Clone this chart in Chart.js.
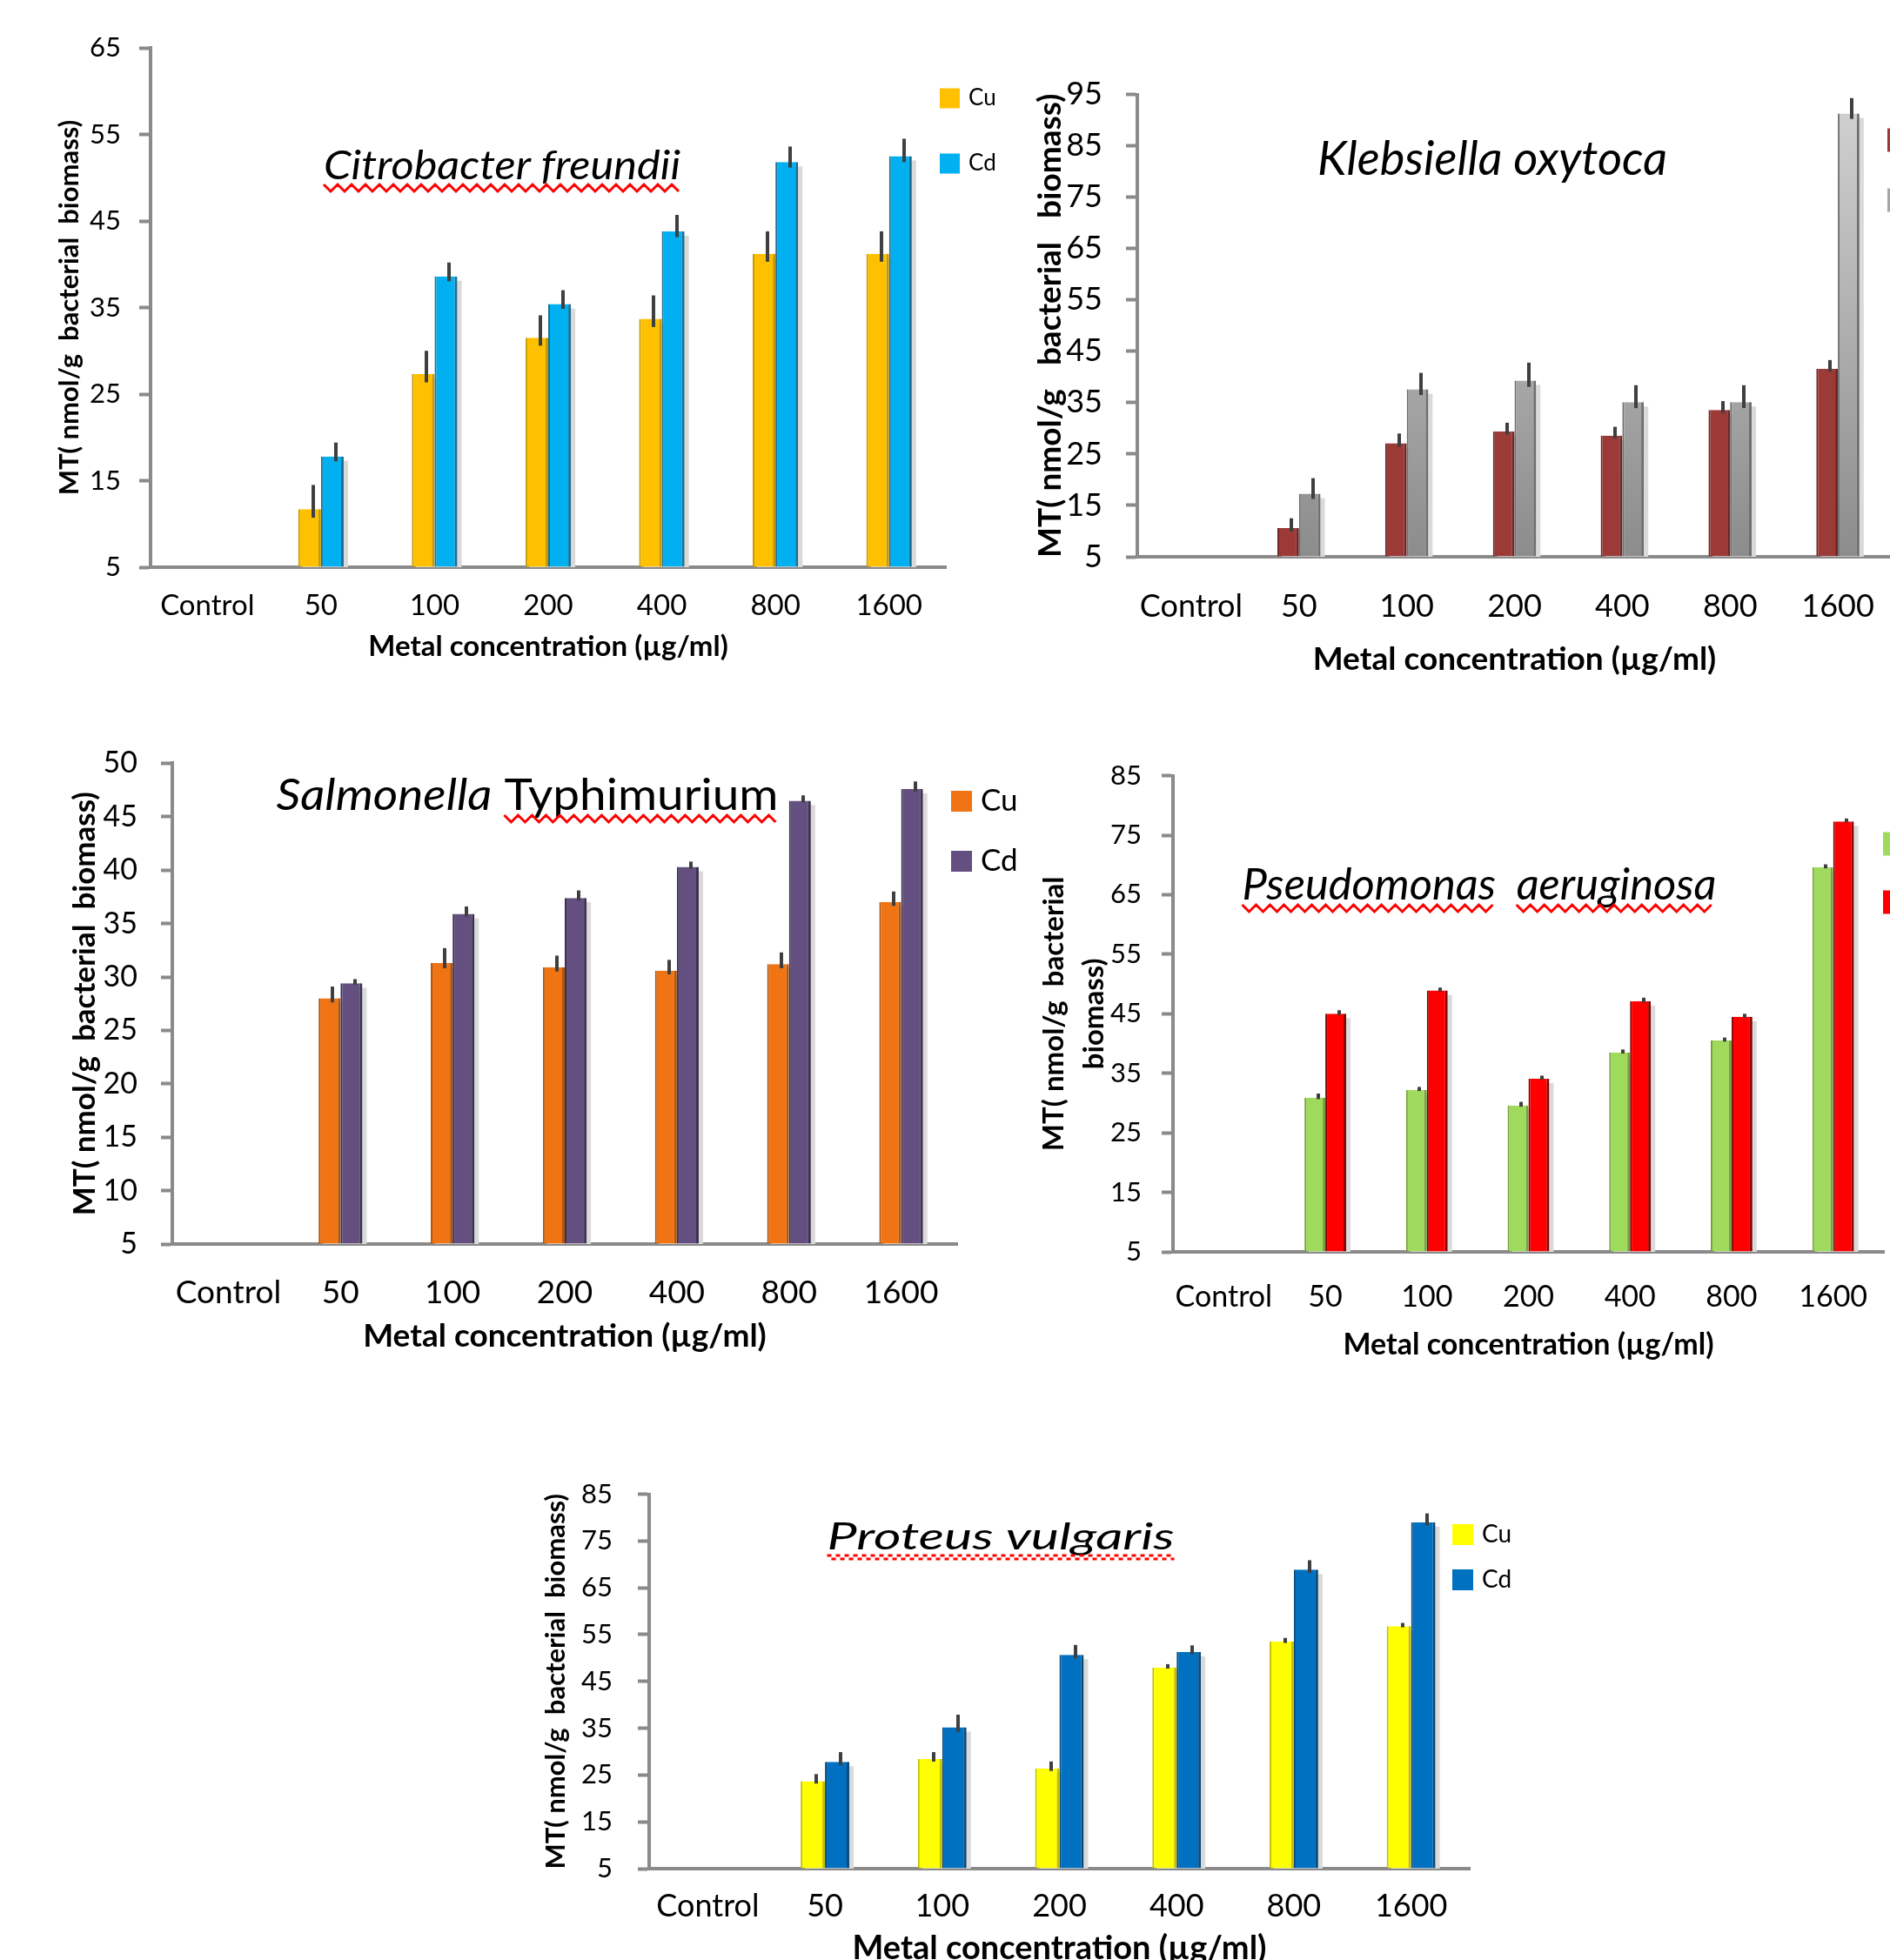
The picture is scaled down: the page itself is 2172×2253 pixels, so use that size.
<!DOCTYPE html>
<html>
<head>
<meta charset="utf-8">
<title>Metallothionein induction by Cu and Cd</title>
<script src="https://cdn.jsdelivr.net/npm/chart.js@4.4.1/dist/chart.umd.min.js"></script>
<style>
  html, body { margin: 0; padding: 0; background: #fff; overflow: hidden; width: 2172px; height: 2253px; }
  .panel { position: absolute; }
  .panel canvas { display: block; }
</style>
</head>
<body>
<div class="panel" id="p-citro"><canvas id="c-citro"></canvas></div>
<div class="panel" id="p-kleb"><canvas id="c-kleb"></canvas></div>
<div class="panel" id="p-salm"><canvas id="c-salm"></canvas></div>
<div class="panel" id="p-pseu"><canvas id="c-pseu"></canvas></div>
<div class="panel" id="p-prot"><canvas id="c-prot"></canvas></div>
<script>
// ---- data -------------------------------------------------------------
const categories = ['Control', '50', '100', '200', '400', '800', '1600'];
const seriesNames = ['Cu', 'Cd'];
const xTitle = 'Metal concentration (\u00b5g/ml)';
const yTitle = 'MT( nmol/g  bacterial  biomass)';

// Citrobacter freundii
const citroCu    = [0, 11.7, 27.3, 31.5, 33.7, 41.2, 41.2];
const citroCd    = [0, 17.8, 38.6, 35.4, 43.8, 51.8, 52.5];
const citroCuErr = [0, 2.8, 2.7, 2.6, 2.7, 2.6, 2.6];
const citroCdErr = [0, 1.6, 1.6, 1.6, 1.9, 1.8, 2.0];
const citroAxis  = [5, 65, 10];   // min, max, step

// Klebsiella oxytoca
const klebCu    = [0, 10.6, 27.1, 29.4, 28.6, 33.6, 41.6];
const klebCd    = [0, 17.3, 37.6, 39.3, 35.1, 35.1, 91.3];
const klebCuErr = [0, 1.9, 1.9, 1.7, 1.7, 1.7, 1.7];
const klebCdErr = [0, 3.0, 3.2, 3.5, 3.3, 3.3, 3.0];
const klebAxis  = [5, 95, 10];

// Salmonella Typhimurium
const salmCu    = [0, 28.0, 31.3, 30.9, 30.6, 31.2, 37.0];
const salmCd    = [0, 29.4, 35.9, 37.4, 40.3, 46.5, 47.6];
const salmCuErr = [0, 1.1, 1.4, 1.1, 1.0, 1.1, 1.0];
const salmCdErr = [0, 0.4, 0.7, 0.7, 0.5, 0.5, 0.7];
const salmAxis  = [5, 50, 5];

// Pseudomonas aeruginosa
const pseuCu    = [0, 30.9, 32.2, 29.6, 38.5, 40.5, 69.6];
const pseuCd    = [0, 45.0, 48.9, 34.1, 47.1, 44.5, 77.3];
const pseuCuErr = [0, 0.7, 0.5, 0.6, 0.5, 0.5, 0.5];
const pseuCdErr = [0, 0.6, 0.5, 0.5, 0.6, 0.5, 0.5];
const pseuAxis  = [5, 85, 10];

// Proteus vulgaris
const protCu    = [0, 23.7, 28.4, 26.4, 48.0, 53.5, 56.8];
const protCd    = [0, 27.8, 35.2, 50.7, 51.3, 68.9, 79.0];
const protCuErr = [0, 1.5, 1.5, 1.5, 0.7, 0.8, 0.7];
const protCdErr = [0, 2.1, 2.7, 2.1, 1.4, 2.0, 1.9];
const protAxis  = [5, 85, 10];

// ---- drawing helpers ----------------------------------------------------
const FONT = 'Lato, "Open Sans", "DejaVu Sans", sans-serif';
const AXIS_GREY = '#8a8a8a';

// soft grey drop shadow to the lower right of every bar
const barShadow = {
  id: 'barShadow',
  beforeDatasetsDraw(chart, args, o) {
    const ctx = chart.ctx, ys = chart.scales.y, area = chart.chartArea;
    ctx.save();
    ctx.fillStyle = o.color;
    chart.data.datasets.forEach((ds, i) => {
      chart.getDatasetMeta(i).data.forEach((bar, j) => {
        const v = ds.data[j];
        if (v == null || v <= ys.min) return;
        const left = bar.x - bar.width / 2 + o.dx;
        const top = bar.y + o.dy;
        ctx.fillRect(left, top, bar.width, area.bottom - top);
      });
    });
    ctx.restore();
  }
};

// standard-error whiskers on top of the bars
const errorBars = {
  id: 'errorBars',
  afterDatasetsDraw(chart, args, o) {
    const ctx = chart.ctx, ys = chart.scales.y;
    ctx.save();
    ctx.strokeStyle = o.color;
    ctx.lineWidth = o.width;
    chart.data.datasets.forEach((ds, i) => {
      const errs = ds.errors;
      if (!errs) return;
      chart.getDatasetMeta(i).data.forEach((bar, j) => {
        const v = ds.data[j], e = errs[j];
        if (v == null || !e || v <= ys.min) return;
        const x = Math.round(bar.x + bar.width * o.shift);
        ctx.beginPath();
        ctx.moveTo(x, ys.getPixelForValue(v + e));
        ctx.lineTo(x, ys.getPixelForValue(v - e * o.below));
        ctx.stroke();
      });
    });
    ctx.restore();
  }
};

function wavyLine(ctx, x0, x1, y, w) {
  ctx.save();
  ctx.strokeStyle = '#ff0000';
  ctx.lineWidth = w.lw;
  if (w.dotted) {
    ctx.setLineDash([w.period / 2, w.period / 2]);
    ctx.beginPath(); ctx.moveTo(x0, y - w.amp); ctx.lineTo(x1, y - w.amp); ctx.stroke();
    ctx.lineDashOffset = w.period / 2;
    ctx.beginPath(); ctx.moveTo(x0, y + w.amp); ctx.lineTo(x1, y + w.amp); ctx.stroke();
  } else {
    ctx.beginPath();
    let up = true;
    for (let x = x0; x <= x1; x += w.period / 2) {
      ctx.lineTo(x, y + (up ? -w.amp : w.amp));
      up = !up;
    }
    ctx.stroke();
  }
  ctx.restore();
}

// species name written inside the plot area
const panelTitle = {
  id: 'panelTitle',
  afterDraw(chart, args, o) {
    if (!o.parts) return;
    const ctx = chart.ctx;
    ctx.save();
    ctx.textBaseline = 'alphabetic';
    ctx.textAlign = 'left';
    ctx.fillStyle = '#000';
    const fontOf = p => `${p.italic ? 'italic ' : ''}${o.weight} ${o.size}px ${FONT}`;
    const widths = o.parts.map(p => { ctx.font = fontOf(p); return ctx.measureText(p.text).width; });
    const sx = o.width / widths.reduce((a, b) => a + b, 0);
    let x = o.x - o.width / 2;
    o.parts.forEach((p, k) => {
      ctx.font = fontOf(p);
      ctx.save();
      ctx.translate(x, o.y);
      ctx.scale(sx, 1);
      ctx.fillText(p.text, 0, 0);
      ctx.restore();
      const w = widths[k] * sx;
      if (p.wavy) wavyLine(ctx, x, x + w, o.y + o.wave.dy, o.wave);
      x += w;
    });
    ctx.restore();
  }
};

// Cu / Cd key at the right of the plot
const sideKey = {
  id: 'sideKey',
  afterDraw(chart, args, o) {
    if (o.x == null) return;
    const ctx = chart.ctx;
    ctx.save();
    chart.data.datasets.forEach((ds, i) => {
      const cy = o.y + i * o.gap;
      ctx.fillStyle = ds.keyColor || ds.backgroundColor;
      ctx.fillRect(o.x, cy - o.box / 2, o.box, o.box);
      ctx.fillStyle = '#000';
      ctx.font = `${o.size}px ${FONT}`;
      ctx.textBaseline = 'middle';
      ctx.textAlign = 'left';
      ctx.fillText(ds.label, o.x + o.box + o.pad, cy);
    });
    ctx.restore();
  }
};

Chart.register(barShadow, errorBars, panelTitle, sideKey);

function makePanel(s) {
  const holder = document.getElementById('p-' + s.id);
  const cv = document.getElementById('c-' + s.id);
  const b = s.box, a = s.area;
  holder.style.left = b.x + 'px';
  holder.style.top = b.y + 'px';
  cv.width = b.w;
  cv.height = b.h;
  const rel = (px, py) => ({ x: px - b.x, y: py - b.y });
  const t = rel(s.title.x, s.title.y);
  const k = rel(s.key.x, s.key.y);

  const mk = (label, data, errs, fill, edge, keyColor) => ({
    label, data, errors: errs,
    backgroundColor: fill, borderColor: edge, keyColor,
    borderWidth: { left: 2, right: 3, top: 0, bottom: 0 },
    base: s.axis[0], clip: 0
  });

  return new Chart(cv, {
    type: 'bar',
    data: {
      labels: categories,
      datasets: [
        mk(seriesNames[0], s.cu, s.cuErr, s.colors[0], s.colors[1], s.colors[4]),
        mk(seriesNames[1], s.cd, s.cdErr, s.colors[2], s.colors[3], s.colors[5])
      ]
    },
    options: {
      responsive: false,
      animation: false,
      events: [],
      layout: { padding: { left: 0, top: a.T - b.y, right: b.x + b.w - a.R, bottom: 0 } },
      datasets: { bar: { categoryPercentage: s.groupWidth, barPercentage: 1 } },
      scales: {
        x: {
          offset: true,
          grid: { display: false, drawTicks: false },
          border: { display: true, color: AXIS_GREY, width: 4 },
          ticks: { color: '#000', font: { family: FONT, size: s.xTick.size }, padding: s.xTick.pad, maxRotation: 0, autoSkip: false },
          title: { display: true, text: xTitle, color: '#000',
                   font: { family: FONT, size: s.xName.size, weight: 'bold' },
                   padding: { top: 0, bottom: s.xName.pb } },
          afterFit: sc => { sc.height = b.y + b.h - a.B; }
        },
        y: {
          min: s.axis[0], max: s.axis[1],
          grid: { display: true, drawOnChartArea: false, drawTicks: true, tickLength: 13, tickWidth: 4, tickColor: AXIS_GREY },
          border: { display: true, color: AXIS_GREY, width: 4 },
          ticks: { stepSize: s.axis[2], color: '#000', font: { family: FONT, size: s.yTick.size }, padding: s.yTick.pad },
          title: { display: true, text: s.yName.text, color: '#000',
                   font: { family: FONT, size: s.yName.size, weight: 'bold', lineHeight: s.yName.lh || 1.2 },
                   padding: { top: s.yName.pt, bottom: 0 } },
          afterFit: sc => { sc.width = a.L - b.x; }
        }
      },
      plugins: {
        legend: { display: false },
        tooltip: { enabled: false },
        barShadow: { color: '#dadada', dx: 5, dy: 5 },
        errorBars: { color: '#3f3f3f', width: 4, shift: 0.15, below: 0.35 },
        panelTitle: { parts: s.title.parts, x: t.x, y: t.y, width: s.title.width, size: s.title.size,
                      weight: 400, wave: s.title.wave },
        sideKey: { x: k.x, y: k.y, gap: s.key.gap, box: s.key.box, pad: 10, size: s.key.size }
      }
    }
  });
}

const wave = { dy: 10, amp: 4, period: 16, lw: 3 };

// Citrobacter freundii (top left)
makePanel({
  id: 'citro', cu: citroCu, cd: citroCd, cuErr: citroCuErr, cdErr: citroCdErr, axis: citroAxis,
  box: { x: 40, y: 10, w: 1120, h: 780 }, area: { L: 173, T: 55, R: 1087, B: 652 },
  groupWidth: 0.4,
  colors: ['#ffc000', '#c49a00', '#00b0f0', '#1c6f93', '#ffc000', '#00b0f0'],
  yTick: { size: 31, pad: 21 }, xTick: { size: 33, pad: 25 },
  yName: { text: yTitle, size: 31, pt: 21 }, xName: { size: 33, pb: 27 },
  title: { parts: [{ text: 'Citrobacter freundii', italic: true, wavy: true }], x: 577, y: 206, width: 410, size: 46, wave },
  key: { x: 1080, y: 113, gap: 75, box: 23, size: 26 }
});

// Klebsiella oxytoca (top right)
makePanel({
  id: 'kleb', cu: klebCu, cd: klebCd, cuErr: klebCuErr, cdErr: klebCdErr, axis: klebAxis,
  box: { x: 1170, y: 60, w: 1110, h: 740 }, area: { L: 1307, T: 96, R: 2174, B: 640 },
  groupWidth: 0.4,
  colors: ['#9b3a37', '#6e2624',
           c => { const ar = c.chart.chartArea; if (!ar) return '#a6a6a6';
                  const g = c.chart.ctx.createLinearGradient(0, ar.top, 0, ar.bottom);
                  g.addColorStop(0, '#d2d2d2'); g.addColorStop(1, '#8c8c8c'); return g; },
           '#6e6e6e', '#9b3a37', '#a6a6a6'],
  yTick: { size: 36, pad: 27 }, xTick: { size: 36, pad: 36 },
  yName: { text: 'MT( nmol/g   bacterial   biomass)', size: 37, pt: 15 }, xName: { size: 37, pb: 20 },
  title: { parts: [{ text: 'Klebsiella oxytoca', italic: true }], x: 1715, y: 201, width: 402, size: 54, wave },
  key: { x: 2169, y: 161, gap: 69, box: 27, size: 34 }
});

// Salmonella Typhimurium (middle left)
makePanel({
  id: 'salm', cu: salmCu, cd: salmCd, cuErr: salmCuErr, cdErr: salmCdErr, axis: salmAxis,
  box: { x: 60, y: 830, w: 1140, h: 750 }, area: { L: 198, T: 870, R: 1100, B: 1430 },
  groupWidth: 0.39,
  colors: ['#f07414', '#b0560e', '#645080', '#3e3150', '#f07414', '#645080'],
  yTick: { size: 34, pad: 27 }, xTick: { size: 37, pad: 34 },
  yName: { text: yTitle, size: 35, pt: 17 }, xName: { size: 37, pb: 22 },
  title: { parts: [{ text: 'Salmonella', italic: true }, { text: ' ' }, { text: 'Typhimurium', wavy: true }],
           x: 606, y: 931, width: 577, size: 50, wave },
  key: { x: 1093, y: 921, gap: 69, box: 24, size: 35 }
});

// Pseudomonas aeruginosa (middle right)
makePanel({
  id: 'pseu', cu: pseuCu, cd: pseuCd, cuErr: pseuCuErr, cdErr: pseuCdErr, axis: pseuAxis,
  box: { x: 1180, y: 850, w: 1100, h: 735 }, area: { L: 1348, T: 884, R: 2165, B: 1439 },
  groupWidth: 0.41,
  colors: ['#a0da5c', '#76a23e', '#ff0000', '#8a0000', '#a0da5c', '#ff0000'],
  yTick: { size: 31, pad: 23 }, xTick: { size: 34, pad: 32 },
  yName: { text: ['MT( nmol/g  bacterial', 'biomass)'], size: 33, pt: 9, lh: 1.38 }, xName: { size: 34, pb: 19 },
  title: { parts: [{ text: 'Pseudomonas', italic: true, wavy: true }, { text: '  ', italic: true },
                   { text: 'aeruginosa', italic: true, wavy: true }],
           x: 1700, y: 1034, width: 545, size: 50, wave },
  key: { x: 2164, y: 970, gap: 67, box: 27, size: 34 }
});

// Proteus vulgaris (bottom centre)
makePanel({
  id: 'prot', cu: protCu, cd: protCd, cuErr: protCuErr, cdErr: protCdErr, axis: protAxis,
  box: { x: 600, y: 1670, w: 1180, h: 620 }, area: { L: 746, T: 1700, R: 1689, B: 2148 },
  groupWidth: 0.415,
  colors: ['#ffff00', '#c4c000', '#0070c0', '#0b4a7a', '#ffff00', '#0070c0'],
  yTick: { size: 31, pad: 29 }, xTick: { size: 36, pad: 22 },
  yName: { text: yTitle, size: 31, pt: 20 }, xName: { size: 38, pb: 27 },
  title: { parts: [{ text: 'Proteus vulgaris', italic: true, wavy: true }], x: 1150, y: 1781, width: 399, size: 42,
           wave: { dy: 9, amp: 2, period: 10, lw: 3, dotted: true } },
  key: { x: 1669, y: 1764, gap: 52, box: 24, size: 28 }
});
</script>
</body>
</html>
